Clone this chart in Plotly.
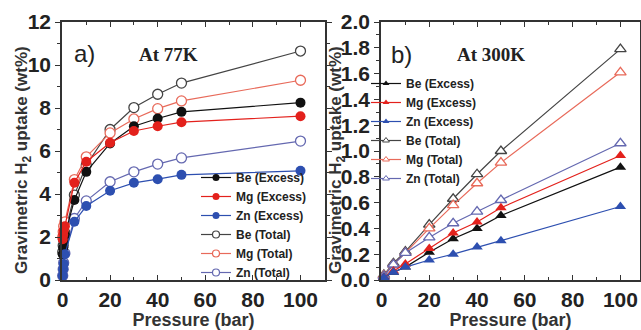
import plotly.graph_objects as go

# ---------------- data ----------------
p77 = [0.1, 0.3, 0.5, 1, 5, 10, 20, 30, 40, 50, 100]
be_ex_77 = [1.2, 1.5, 1.8, 2.1, 3.72, 5.03, 6.35, 7.15, 7.51, 7.82, 8.25]
mg_ex_77 = [1.9, 2.1, 2.3, 2.5, 4.52, 5.5, 6.38, 6.93, 7.15, 7.34, 7.62]
zn_ex_77 = [0.2, 0.5, 0.75, 1.2, 2.71, 3.44, 4.15, 4.52, 4.69, 4.89, 5.08]
be_tot_77 = [1.3, 1.6, 1.9, 2.2, 3.95, 5.34, 7.0, 8.02, 8.64, 9.16, 10.65]
mg_tot_77 = [2.0, 2.25, 2.5, 2.7, 4.67, 5.73, 6.84, 7.49, 7.97, 8.33, 9.29]
zn_tot_77 = [0.2, 0.5, 0.8, 1.25, 2.86, 3.68, 4.57, 5.03, 5.39, 5.68, 6.46]

p300 = [1, 5, 10, 20, 30, 40, 50, 100]
be_ex_300 = [0.02, 0.06, 0.10, 0.215, 0.32, 0.40, 0.50, 0.875]
mg_ex_300 = [0.02, 0.07, 0.125, 0.245, 0.365, 0.45, 0.56, 0.965]
zn_ex_300 = [0.02, 0.06, 0.10, 0.155, 0.20, 0.255, 0.305, 0.57]
be_tot_300 = [0.04, 0.13, 0.22, 0.43, 0.63, 0.82, 1.0, 1.79]
mg_tot_300 = [0.035, 0.12, 0.21, 0.40, 0.58, 0.75, 0.91, 1.61]
zn_tot_300 = [0.03, 0.12, 0.21, 0.33, 0.44, 0.53, 0.62, 1.06]

names = ["Be (Excess)", "Mg (Excess)", "Zn (Excess)", "Be (Total)", "Mg (Total)", "Zn (Total)"]
x_ticks = [0, 20, 40, 60, 80, 100]
y_ticks_a = [0, 2, 4, 6, 8, 10, 12]
y_ticks_b = [0.0, 0.2, 0.4, 0.6, 0.8, 1.0, 1.2, 1.4, 1.6, 1.8, 2.0]
y_title = "<b>Gravimetric H<sub>2</sub> uptake (wt%)</b>"
x_title = "<b>Pressure (bar)</b>"

# ---------------- styles ----------------
C_BE_EX, C_MG_EX, C_ZN_EX = "#111111", "#e3211c", "#2d4fb0"
C_BE_TOT, C_MG_TOT, C_ZN_TOT = "#444444", "#e86a5a", "#6468b0"
colors = [C_BE_EX, C_MG_EX, C_ZN_EX, C_BE_TOT, C_MG_TOT, C_ZN_TOT]
filled = [True, True, True, False, False, False]

fig = go.Figure()

series77 = [be_ex_77, mg_ex_77, zn_ex_77, be_tot_77, mg_tot_77, zn_tot_77]
series300 = [be_ex_300, mg_ex_300, zn_ex_300, be_tot_300, mg_tot_300, zn_tot_300]

def add(x, y, col, fill, sym, xa, ya, size, lw):
    fig.add_trace(go.Scatter(
        x=x, y=y, mode="lines+markers", showlegend=False, cliponaxis=False,
        line=dict(color=col, width=lw),
        marker=dict(symbol=sym, size=size,
                    color=col if fill else "white",
                    line=dict(color=col, width=1.3 if not fill else 0)),
        xaxis=xa, yaxis=ya))

order = [3, 4, 5, 0, 1, 2]
for i in order:
    add(p77, series77[i], colors[i], filled[i], "circle", "x", "y", 10, 1.2)
for i in order:
    add(p300, series300[i], colors[i], filled[i], "triangle-up", "x2", "y2", 10, 1.2)

# legend proxies
for i, n in enumerate(names):
    fig.add_trace(go.Scatter(
        x=[None], y=[None], mode="lines+markers", name=n, legend="legend",
        line=dict(color=colors[i], width=1.2),
        marker=dict(symbol="circle", size=7, color=colors[i] if filled[i] else "white",
                    line=dict(color=colors[i], width=1.2 if not filled[i] else 0)),
        xaxis="x", yaxis="y"))
for i, n in enumerate(names):
    fig.add_trace(go.Scatter(
        x=[None], y=[None], mode="lines+markers", name=n, legend="legend2",
        line=dict(color=colors[i], width=1.2),
        marker=dict(symbol="triangle-up", size=6, color=colors[i] if filled[i] else "white",
                    line=dict(color=colors[i], width=1.0 if not filled[i] else 0)),
        xaxis="x2", yaxis="y2"))

W, H = 641, 330
tickfont = dict(family="Liberation Sans, Arial", size=21, color="#222222")
titlefont = dict(family="Liberation Sans, Arial", size=18, color="#333333")
ytitlefont = dict(family="Liberation Sans, Arial", size=17, color="#333333")
legfont = dict(family="Liberation Sans, Arial", size=12, color="#222222", weight="bold")

def xaxis(dom, rng, anchor):
    return dict(domain=dom, range=rng, anchor=anchor, automargin=False,
                tickvals=x_ticks, ticktext=[f"<b>{v}</b>" for v in x_ticks],
                ticks="inside", ticklen=5, tickwidth=1.3, tickcolor="#333",
                minor=dict(dtick=10, tick0=0, ticks="inside", ticklen=3, tickcolor="#333", showgrid=False),
                showline=True, linecolor="#333", linewidth=1.5, mirror="allticks",
                showgrid=False, zeroline=False, tickfont=tickfont,
                title=dict(text=x_title, font=titlefont, standoff=4))

def yaxis(anchor, rng, vals, texts, minor_dt):
    return dict(domain=[50 / H, 308 / H], range=rng, anchor=anchor, automargin=False,
                tickvals=vals, ticktext=texts,
                ticks="outside", ticklen=5, tickwidth=1.3, tickcolor="#333",
                minor=dict(dtick=minor_dt, tick0=0, ticks="outside", ticklen=3, tickcolor="#333", showgrid=False),
                showline=True, linecolor="#333", linewidth=1.5, mirror="allticks",
                showgrid=False, zeroline=False, tickfont=tickfont)

def note(text, x, y, font, xanchor="center", angle=0):
    return dict(text=text, x=x / W, y=1 - y / H, xref="paper", yref="paper",
                xanchor=xanchor, yanchor="middle", showarrow=False, textangle=angle, font=font)

sans_big = dict(family="Liberation Sans, Arial", size=24, color="#222")
serif_b = dict(family="Liberation Serif, Times New Roman", size=19, color="#222")

fig.update_layout(
    width=W, height=H, margin=dict(l=0, r=0, t=0, b=0, autoexpand=False),
    paper_bgcolor="white", plot_bgcolor="white",
    xaxis=xaxis([62 / W, 325 / W], [-0.2, 110.3], "y"),
    yaxis=yaxis("x", [0, 12], y_ticks_a, [f"<b>{v}</b>" for v in y_ticks_a], 1),
    xaxis2=xaxis([381 / W, 640 / W], [-0.2, 108.2], "y2"),
    yaxis2=yaxis("x2", [0, 2], y_ticks_b, [f"<b>{v:.1f}</b>" for v in y_ticks_b], 0.1),
    legend=dict(x=196 / W, y=1 - 163 / H, xanchor="left", yanchor="top",
                bgcolor="rgba(0,0,0,0)", borderwidth=0, tracegroupgap=0,
                font=legfont, itemwidth=30),
    legend2=dict(x=366 / W, y=1 - 69 / H, xanchor="left", yanchor="top",
                 bgcolor="rgba(0,0,0,0)", borderwidth=0, tracegroupgap=0,
                 font=legfont, itemwidth=30),
    annotations=[
        note("a)", 72, 53, sans_big, "left"),
        note("<b>At 77K</b>", 168, 55, serif_b),
        note("b)", 389, 55, sans_big, "left"),
        note("<b>At 300K</b>", 491, 55, serif_b),
        note(y_title, 23, 160, ytitlefont, angle=-90),
        note(y_title, 337, 160, ytitlefont, angle=-90),
    ],
)

fig.write_html("out.html", config={"displayModeBar": False},
               post_script="document.body.style.margin='0px';")
